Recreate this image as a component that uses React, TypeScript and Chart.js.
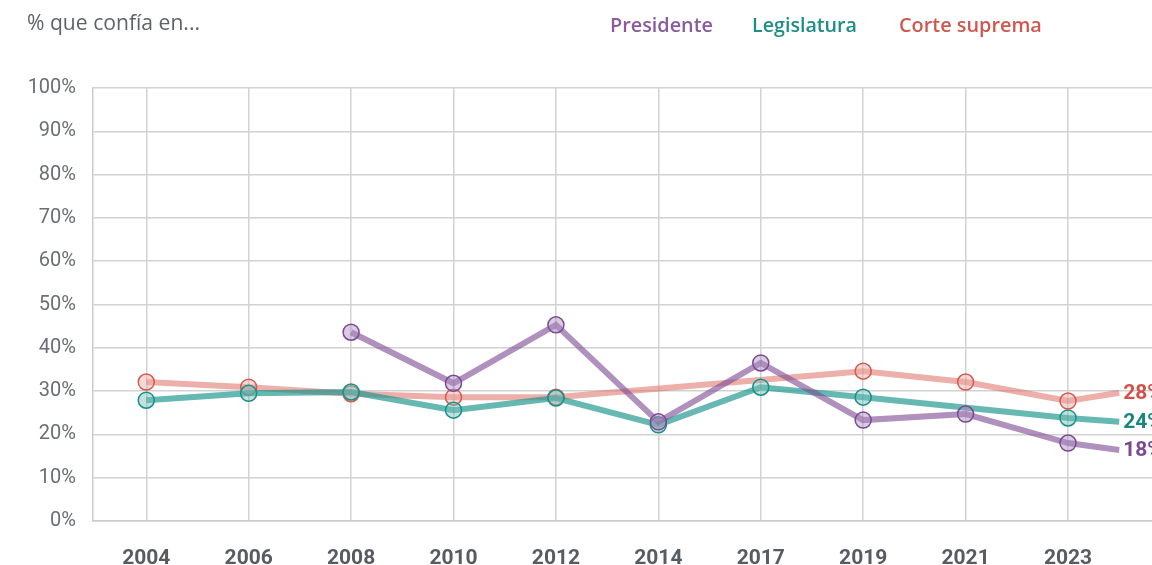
import React, { useEffect, useRef } from 'react';
import { Chart, registerables } from 'chart.js';

Chart.register(...registerables);

const years = ['2004', '2006', '2008', '2010', '2012', '2014', '2017', '2019', '2021', '2023'];
// last entry: end-of-line value (drawn without marker, half a step after 2023)
const presidente = [null, null, 43.6, 31.8, 45.3, 22.9, 36.5, 23.3, 24.7, 18.0, 16.4];
const legislatura = [27.9, 29.5, 29.8, 25.6, 28.4, 22.2, 30.9, 28.6, null, 23.8, 22.9];
const corteSuprema = [32.1, 30.9, 29.4, 28.6, 28.6, null, null, 34.6, 32.1, 27.7, 29.6];
const endLabels = ['18%', '24%', '28%'];
const seriesNames = ['Presidente', 'Legislatura', 'Corte suprema'];
const yTicks = [0, 10, 20, 30, 40, 50, 60, 70, 80, 90, 100];
const titleText = '% que confía en...';

const lineColors = ['rgba(128,78,150,0.62)', 'rgba(30,150,142,0.68)', 'rgba(220,110,100,0.55)'];
const borderColors = ['#7a4a92', '#1a9088', '#d65a50'];
const fillColors = ['rgba(170,140,190,0.45)', 'rgba(120,190,185,0.45)', 'rgba(235,170,165,0.45)'];
const textColors = ['#8a5a9e', '#1e8e86', '#d0574f'];
const endTextColors = ['#7a4a92', '#18857f', '#d2524a'];

const toPoints = (vals: (number | null)[]) =>
  vals.map((v, i) => ({ x: i < years.length ? i : years.length - 0.5, y: v }));

function fitFont(ctx: CanvasRenderingContext2D, text: string, weight: string, family: string, target: number) {
  ctx.font = `${weight} 18px ${family}`;
  const w = ctx.measureText(text).width;
  const size = (18 * target) / w;
  ctx.font = `${weight} ${size.toFixed(2)}px ${family}`;
}

export default function App() {
  const ref = useRef<HTMLCanvasElement>(null);
  useEffect(() => {
    const canvas = ref.current!;
    const series = [presidente, legislatura, corteSuprema];
    const order = [0, 1, 2];
    const overlay = {
      id: 'overlay',
      afterDatasetsDraw(chart: any) {
        const ctx = chart.ctx;
        ctx.save();
        // end labels
        ctx.font = 'bold 21px Roboto';
        ctx.textBaseline = 'middle';
        ctx.textAlign = 'left';
        series.forEach((s, k) => {
          const meta = chart.getDatasetMeta(k);
          const pt = meta.data[s.length - 1];
          ctx.fillStyle = endTextColors[k];
          ctx.fillText(endLabels[k], pt.x + 4, pt.y + 1);
        });
        // title
        fitFont(ctx, titleText, '400', '"Open Sans"', 173);
        ctx.fillStyle = '#5f6368';
        ctx.fillText(titleText, 27, 24);
        // legend
        const lx = [610, 752, 899];
        const lw = [103, 105, 143];
        seriesNames.forEach((n, k) => {
          fitFont(ctx, n, '600', '"Open Sans"', lw[k]);
          ctx.fillStyle = textColors[k];
          ctx.fillText(n, lx[k], 26);
        });
        ctx.restore();
      },
    };
    const chart = new Chart(canvas, {
      type: 'line',
      data: {
        datasets: order.map((k) => ({
          label: seriesNames[k],
          data: toPoints(series[k]) as any,
          borderColor: lineColors[k],
          borderWidth: 6,
          pointRadius: (c: any) => (c.dataIndex === series[k].length - 1 ? 0 : 8),
          pointBackgroundColor: fillColors[k],
          pointBorderColor: borderColors[k],
          pointBorderWidth: 1.5,
          spanGaps: true,
          tension: 0,
          order: k,
        })),
      },
      options: {
        responsive: false,
        animation: false,
        layout: { autoPadding: false, padding: { top: 88, left: 0, right: 0, bottom: 0 } },
        plugins: { legend: { display: false }, tooltip: { enabled: false }, title: { display: false } },
        scales: {
          x: {
            type: 'linear',
            min: -0.52,
            max: 9.82,
            afterBuildTicks: (axis: any) => {
              axis.ticks = years.map((_, i) => ({ value: i }));
            },
            afterFit: (axis: any) => {
              axis.height = 44;
              axis.paddingLeft = 0;
              axis.paddingRight = 0;
            },
            ticks: {
              callback: (v: any) => years[v as number],
              font: { family: 'Roboto', size: 21, weight: 'bold' },
              color: '#575b62',
              padding: 25,
              maxRotation: 0,
              autoSkip: false,
            },
            grid: { color: '#d2d2d2', lineWidth: 1.5, drawTicks: false },
            border: { color: '#cccccc', width: 1.5 },
          },
          y: {
            min: 0,
            max: 100,
            afterBuildTicks: (axis: any) => {
              axis.ticks = yTicks.map((v) => ({ value: v }));
            },
            afterFit: (axis: any) => {
              axis.width = 93;
              axis.paddingTop = 0;
              axis.paddingBottom = 0;
            },
            ticks: {
              callback: (v: any) => v + '%',
              font: { family: 'Roboto', size: 20 },
              color: '#6b6e73',
              padding: 17,
            },
            grid: { color: '#d2d2d2', lineWidth: 1.5, drawTicks: false },
            border: { color: '#cccccc', width: 1.5 },
          },
        },
      },
      plugins: [overlay],
    });
    return () => chart.destroy();
  }, []);
  return (
    <div style={{ position: 'fixed', left: 0, top: 0, width: 1152, height: 565, background: '#fff' }}>
      <canvas ref={ref} width={1152} height={565} style={{ display: 'block' }} />
    </div>
  );
}
